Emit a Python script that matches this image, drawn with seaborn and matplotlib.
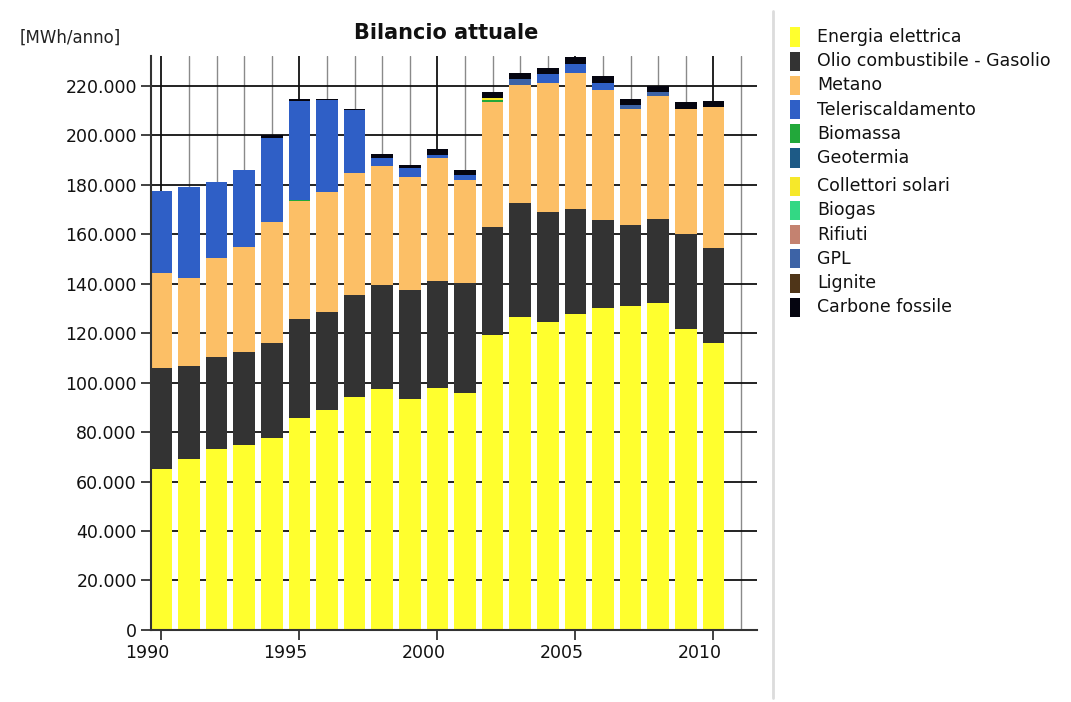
import numpy as np
import pandas as pd
import matplotlib
matplotlib.use("Agg")
import matplotlib.pyplot as plt
import matplotlib.transforms as mtransforms
from matplotlib.patches import Rectangle
from matplotlib.lines import Line2D
from matplotlib.ticker import MultipleLocator, FuncFormatter
import seaborn as sns

sns.set_theme(style="white")
plt.rcParams["font.family"] = ["DejaVu Sans"]

# dati (MWh/anno) -------------------------------------------------------
anni = [1990, 1991, 1992, 1993, 1994, 1995, 1996, 1997, 1998, 1999, 2000,
        2001, 2002, 2003, 2004, 2005, 2006, 2007, 2008, 2009, 2010]

energia_elettrica = [65000, 69200, 73300, 74700, 77500, 85500, 88800, 94300, 97300, 93200, 97900,
                     95900, 119100, 126500, 124400, 127800, 130100, 130800, 132100, 121700, 116000]
olio_gasolio = [41000, 37700, 37100, 37700, 38500, 40200, 39700, 41200, 42200, 44300, 43200,
                44300, 43600, 46100, 44600, 42200, 35600, 32900, 34200, 38200, 38300]
metano = [38200, 35300, 39800, 42300, 49000, 47600, 48600, 49200, 47900, 45600, 49800,
          41600, 50900, 47800, 51900, 55100, 52600, 46900, 49700, 50700, 57000]
teleriscaldamento = [33300, 36900, 30900, 31400, 33800, 40000, 37200, 25500, 3500, 3600, 1200,
                     2200, 0, 0, 3800, 3600, 2800, 0, 0, 0, 0]
biomassa = [0, 0, 0, 0, 0, 700, 0, 0, 0, 0, 0,
            0, 700, 0, 0, 0, 0, 0, 0, 0, 0]
geotermia = [0] * 21
collettori_solari = [0, 0, 0, 0, 0, 0, 0, 0, 0, 0, 0,
                     0, 700, 0, 0, 0, 0, 0, 0, 0, 0]
biogas = [0] * 21
rifiuti = [0] * 21
gpl = [0, 0, 0, 0, 0, 0, 0, 0, 0, 0, 0,
       0, 0, 2300, 0, 0, 0, 1400, 1300, 0, 0]
lignite = [0] * 21
carbone_fossile = [0, 0, 0, 0, 1100, 600, 300, 400, 1300, 1400, 2400,
                   2100, 2300, 2400, 2400, 3000, 2700, 2600, 2700, 2700, 2700]

serie = {
    "Energia elettrica": energia_elettrica,
    "Olio combustibile - Gasolio": olio_gasolio,
    "Metano": metano,
    "Teleriscaldamento": teleriscaldamento,
    "Biomassa": biomassa,
    "Geotermia": geotermia,
    "Collettori solari": collettori_solari,
    "Biogas": biogas,
    "Rifiuti": rifiuti,
    "GPL": gpl,
    "Lignite": lignite,
    "Carbone fossile": carbone_fossile,
}
colori = {
    "Energia elettrica": "#ffff2e",
    "Olio combustibile - Gasolio": "#333333",
    "Metano": "#fcbf66",
    "Teleriscaldamento": "#2f5fc6",
    "Biomassa": "#22a83a",
    "Geotermia": "#1d5a86",
    "Collettori solari": "#f6e82a",
    "Biogas": "#33d884",
    "Rifiuti": "#c48270",
    "GPL": "#3d63a6",
    "Lignite": "#4f3518",
    "Carbone fossile": "#050510",
}
# ordine della pila dal basso verso l'alto
ordine_pila = ["Energia elettrica", "Olio combustibile - Gasolio", "Metano", "Biomassa",
               "Geotermia", "Collettori solari", "Biogas", "Rifiuti", "Teleriscaldamento",
               "GPL", "Lignite", "Carbone fossile"]

df = pd.DataFrame([(a, k, v) for k, vals in serie.items() for a, v in zip(anni, vals)],
                  columns=["anno", "fonte", "valore"])

# grafico ---------------------------------------------------------------
fig = plt.figure(figsize=(10.71, 7.02), dpi=100)
ax = fig.add_axes([0.1407, 0.1026, 0.5661, 0.8176])
ax.set_axisbelow(True)

# seaborn impila il primo livello in alto
sns.histplot(data=df, x="anno", weights="valore", hue="fonte",
             hue_order=ordine_pila[::-1], palette=colori, multiple="stack",
             discrete=True, shrink=0.785, alpha=1, edgecolor="none", linewidth=0,
             legend=False, ax=ax)

ax.set_xlim(1989.61, 2011.58)
ax.set_ylim(0, 232000)
ax.set_xlabel("")
ax.set_ylabel("")

ax.xaxis.set_major_locator(MultipleLocator(5))
ax.xaxis.set_minor_locator(MultipleLocator(1))
ax.yaxis.set_major_locator(MultipleLocator(20000))
ax.yaxis.set_major_formatter(FuncFormatter(lambda v, p: f"{int(v):,}".replace(",", ".")))

ax.grid(True, which="major", axis="both", color="#111111", lw=1.3)
ax.grid(True, which="minor", axis="x", color="#8a8a8a", lw=1.0)

for s in ["top", "right"]:
    ax.spines[s].set_visible(False)
for s in ["left", "bottom"]:
    ax.spines[s].set_color("#333333")
    ax.spines[s].set_linewidth(1.5)

ax.tick_params(axis="both", which="major", direction="out", length=7, width=1.3,
               color="#333333", labelsize=12.5, labelcolor="#111111", pad=3,
               bottom=True, left=True)
ax.tick_params(axis="x", which="minor", length=0)

# etichette anni spostate a sinistra come nell'originale
offset = mtransforms.ScaledTranslation(-0.14, 0, fig.dpi_scale_trans)
for lab in ax.get_xticklabels():
    lab.set_transform(lab.get_transform() + offset)

fig.text(0.4164, 0.953, "Bilancio attuale", ha="center", va="center",
         fontsize=15, fontweight="bold", color="#111111")
fig.text(0.0187, 0.946, "[MWh/anno]", ha="left", va="center",
         fontsize=12, color="#222222")

# separatore e legenda ---------------------------------------------------
fig.add_artist(Line2D([773 / 1071, 773 / 1071], [0.005, 0.985], transform=fig.transFigure,
                      color="#dcdcdc", lw=2))

W, H = 1071, 702
for i, nome in enumerate(serie.keys()):
    yc = 37 + 24.2 * i + (4 if i >= 6 else 0)
    fig.add_artist(Rectangle((790 / W, 1 - (yc + 9.5) / H), 10 / W, 19 / H,
                             transform=fig.transFigure, color=colori[nome], lw=0))
    fig.text(817 / W, 1 - yc / H, nome, ha="left", va="center",
             fontsize=12.5, color="#111111")

fig.savefig("out.png", dpi=100, facecolor="white")
